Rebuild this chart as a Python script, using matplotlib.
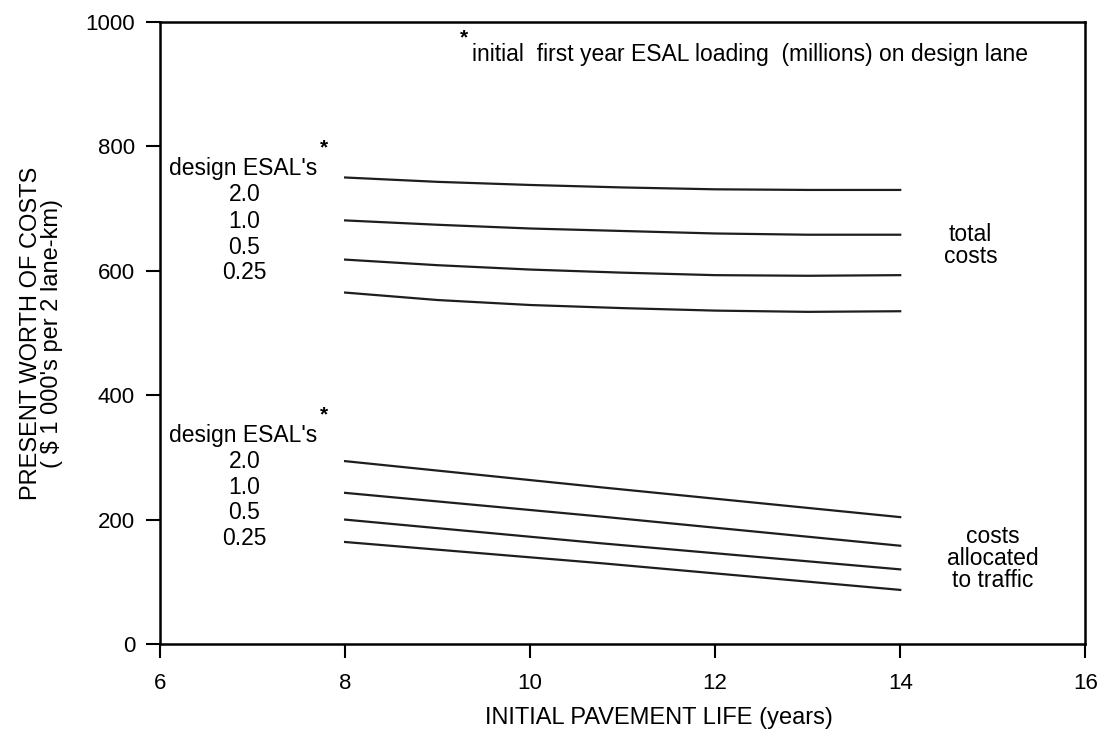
import numpy as np
import matplotlib
matplotlib.use("Agg")
import matplotlib.pyplot as plt

plt.rcParams['font.family'] = ['Liberation Sans', 'DejaVu Sans']

# initial pavement life (years)
years_total = [8, 9, 10, 11, 12, 13, 14]
years_traffic = [8, 10.76, 14]

# total costs, one curve per design ESAL level
total_20 = [750, 743, 738, 734, 731, 730, 730]
total_10 = [681, 674, 668, 664, 660, 658, 658]
total_05 = [618, 609, 602, 597, 593, 592, 593]
total_025 = [565, 553, 545, 540, 536, 534, 535]

# costs allocated to traffic
traffic_20 = [294, 252, 204]
traffic_10 = [243, 205, 158]
traffic_05 = [200, 162, 120]
traffic_025 = [164, 130, 87]

esal_labels = ['2.0', '1.0', '0.5', '0.25']

fig = plt.figure(figsize=(11.04, 7.33), dpi=100)
ax = fig.add_axes([0.145, 0.1214, 0.838, 0.8486])

for vals in [total_20, total_10, total_05, total_025]:
    ax.plot(years_total, vals, color='#1e1e1e', linewidth=1.6)
for vals in [traffic_20, traffic_10, traffic_05, traffic_025]:
    ax.plot(years_traffic, vals, color='#1e1e1e', linewidth=1.6)

ax.set_xlim(6, 16)
ax.set_ylim(0, 1000)
ax.set_xticks([6, 8, 10, 12, 14, 16])
ax.set_yticks([0, 200, 400, 600, 800, 1000])
ax.tick_params(direction='out', length=10, width=1.5, labelsize=16)
ax.tick_params(axis='x', pad=11)
ax.tick_params(axis='y', pad=8)
for sp in ax.spines.values():
    sp.set_linewidth(1.8)

ax.set_xlabel('INITIAL PAVEMENT LIFE (years)', fontsize=17, va='center')
ax.xaxis.set_label_coords(0.539, -0.119)
ax.set_ylabel("PRESENT WORTH OF COSTS\n( $ 1 000's per 2 lane-km)", fontsize=17,
              linespacing=0.95, va='center')
ax.yaxis.set_label_coords(-0.1286, 0.5)

# ESAL group labels
txt = dict(fontsize=16.5, ha='center', va='center')
for top, vals_y in [(765, [722, 680, 638, 598]), (336, [293, 252, 211, 169])]:
    ax.text(6.9, top, "design ESAL's", **txt)
    ax.text(7.77, top + 33, '*', fontsize=15, ha='center', va='center', fontweight='bold')
    for lab, yy in zip(esal_labels, vals_y):
        ax.text(6.91, yy, lab, **txt)

ax.text(14.76, 640, 'total\ncosts', linespacing=0.95, **txt)
ax.text(15.0, 138, 'costs\nallocated\nto traffic', linespacing=0.95, **txt)

ax.text(9.28, 975, '*', fontsize=15, ha='center', va='center', fontweight='bold')
ax.text(9.37, 947, 'initial  first year ESAL loading  (millions) on design lane',
        fontsize=16.5, ha='left', va='center')

fig.savefig('out.png', dpi=100)
